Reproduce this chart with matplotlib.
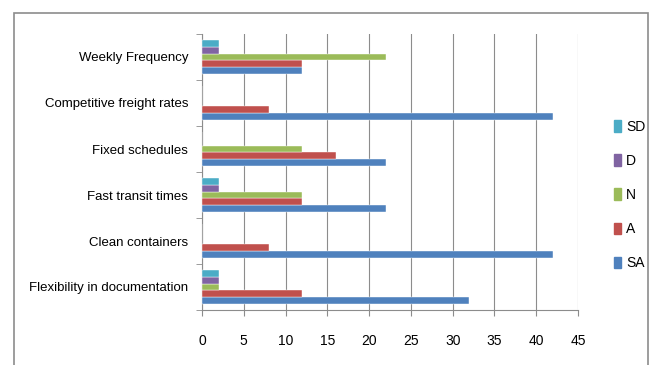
import matplotlib
matplotlib.use("Agg")
import matplotlib.pyplot as plt
from matplotlib.patches import Rectangle, Patch
import numpy as np

# data, bottom category first (as drawn by the original chart)
categories = ["Flexibility in documentation", "Clean containers", "Fast transit times",
              "Fixed schedules", "Competitive freight rates", "Weekly Frequency"]
series = ["SA", "A", "N", "D", "SD"]
sa = [32, 42, 22, 22, 42, 12]
a = [12, 8, 12, 16, 8, 12]
n = [2, 0, 12, 12, 0, 22]
d = [2, 0, 2, 0, 0, 2]
sd = [2, 0, 2, 0, 0, 2]
colors = ["#4F81BD", "#C0504D", "#9BBB59", "#8064A2", "#4BACC6"]
xticks = list(range(0, 50, 5))

plt.rcParams["font.family"] = ["Liberation Sans", "DejaVu Sans"]

fig = plt.figure(figsize=(6.5, 3.65), dpi=100)
# outer chart frame
fig.patches.append(Rectangle((14 / 650, -0.1), (648 - 14) / 650, 1.1 - 13 / 365,
                             transform=fig.transFigure, fill=False,
                             edgecolor="#8c8c8c", linewidth=1.2))

ax = fig.add_axes([202 / 650, 1 - 310 / 365, (578 - 202) / 650, (310 - 34) / 365])

h = 0.15
y = np.arange(len(categories))
for i, (name, vals) in enumerate(zip(series, [sa, a, n, d, sd])):
    ax.barh(y - 2 * h + i * h, vals, height=h, color=colors[i], label=name,
            edgecolor="white", linewidth=0.3, zorder=3)

ax.set_xlim(0, 45)
ax.set_ylim(-0.5, len(categories) - 0.5)
ax.set_xticks(xticks)
ax.set_yticks(y)
ax.set_yticklabels(categories, fontsize=9.5)
ax.set_yticks(np.arange(-0.5, len(categories), 1), minor=True)
ax.tick_params(axis="y", which="major", length=0, pad=10)
ax.tick_params(axis="y", which="minor", length=4, color="#8c8c8c")
ax.tick_params(axis="x", length=4, color="#8c8c8c", labelsize=10, pad=13)
ax.grid(axis="x", color="#8c8c8c", linewidth=0.8, zorder=0)
for s in ["top", "right"]:
    ax.spines[s].set_visible(False)
for s in ["left", "bottom"]:
    ax.spines[s].set_color("#8c8c8c")

handles = [Patch(color=colors[i], label=series[i]) for i in range(len(series))][::-1]
fig.legend(handles=handles, loc="center left", bbox_to_anchor=(604 / 650, 1 - 195 / 365),
           frameon=False, fontsize=10, handlelength=0.5, handleheight=0.9,
           handletextpad=0.4, labelspacing=1.45, borderpad=0.2)

fig.savefig("out.png", dpi=100)
